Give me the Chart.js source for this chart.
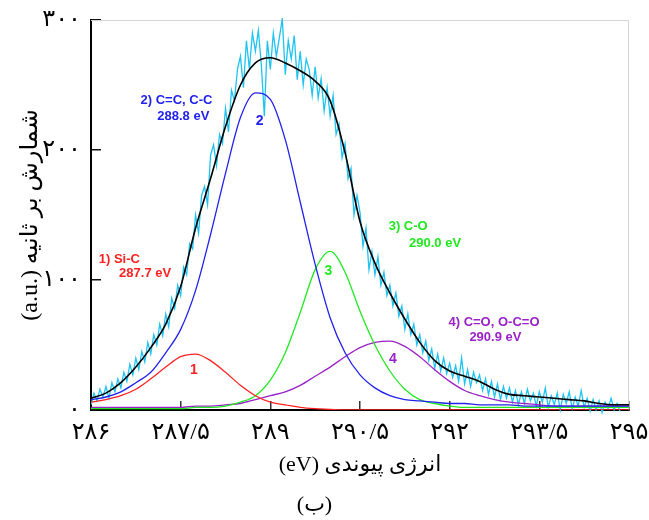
<!DOCTYPE html>
<html>
<head>
<meta charset="utf-8">
<script src="https://cdn.jsdelivr.net/npm/chart.js@4.4.1/dist/chart.umd.min.js"></script>
<style>
  html, body { margin: 0; padding: 0; background: #fff; }
</style>
</head>
<body>
<canvas id="xps" dir="rtl" width="649" height="520"></canvas>
<script>
// C1s spectrum: raw counts + fitted components

var fitEnergy = [286, 286.25, 286.5, 286.75, 287, 287.25, 287.5, 287.75, 288, 288.25, 288.5, 288.75,
  289, 289.25, 289.5, 289.75, 290, 290.25, 290.5, 290.75, 291, 291.25, 291.5, 291.75,
  292, 292.25, 292.5, 292.75, 293, 293.25, 293.5, 293.75, 294, 294.25, 294.5, 294.75, 295];

var siC = [6, 8, 11, 16, 24, 33, 41, 43, 38, 29, 19, 11,
  6, 4, 2, 1, 0.5, 0, 0, 0, 0, 0, 0, 0,
  0, 0, 0, 0, 0, 0, 0, 0, 0, 0, 0, 0, 0];

var cC = [8, 10, 14, 21, 29, 44, 62, 92, 135, 182, 225, 244,
  239, 208, 160, 112, 71, 44, 27, 17, 11, 8, 7, 6,
  5, 5, 4, 4, 4, 3, 3, 3, 3, 3, 3, 3, 3];

var cO = [1, 1, 1, 1, 1, 1, 1, 2, 2, 3, 6, 11,
  23, 44, 75, 108, 122, 106, 76, 50, 30, 16, 8, 5,
  3, 2, 2, 2, 2, 2, 2, 2, 2, 2, 2, 2, 2];

var cOO = [2, 2, 2, 2, 2, 2, 2, 3, 3, 4, 5, 8,
  11, 14, 19, 26, 33, 41, 48, 52, 53, 49, 41, 31,
  22, 15, 11, 8, 6, 5, 4, 3, 3, 3, 3, 3, 3];

var envelope = [9, 13, 21, 33, 48, 66, 95, 140, 178, 218, 250, 267,
  271, 267, 261, 253, 238, 198, 145, 113, 90, 70, 52, 38,
  30, 26, 22, 16, 12, 11, 10, 9, 8, 7, 5, 4, 4];

var rawEnergy = [
  286.00, 286.05, 286.10, 286.15, 286.20, 286.25, 286.30, 286.35, 286.40, 286.45,
  286.50, 286.55, 286.60, 286.65, 286.70, 286.75, 286.80, 286.85, 286.90, 286.95,
  287.00, 287.05, 287.10, 287.15, 287.20, 287.25, 287.30, 287.35, 287.40, 287.45,
  287.50, 287.55, 287.60, 287.65, 287.70, 287.75, 287.80, 287.85, 287.90, 287.95,
  288.00, 288.05, 288.10, 288.15, 288.20, 288.25, 288.30, 288.35, 288.40, 288.45,
  288.50, 288.55, 288.60, 288.65, 288.70, 288.75, 288.80, 288.85, 288.90, 288.95,
  289.00, 289.05, 289.10, 289.15, 289.20, 289.25, 289.30, 289.35, 289.40, 289.45,
  289.50, 289.55, 289.60, 289.65, 289.70, 289.75, 289.80, 289.85, 289.90, 289.95,
  290.00, 290.05, 290.10, 290.15, 290.20, 290.25, 290.30, 290.35, 290.40, 290.45,
  290.50, 290.55, 290.60, 290.65, 290.70, 290.75, 290.80, 290.85, 290.90, 290.95,
  291.00, 291.05, 291.10, 291.15, 291.20, 291.25, 291.30, 291.35, 291.40, 291.45,
  291.50, 291.55, 291.60, 291.65, 291.70, 291.75, 291.80, 291.85, 291.90, 291.95,
  292.00, 292.05, 292.10, 292.15, 292.20, 292.25, 292.30, 292.35, 292.40, 292.45,
  292.50, 292.55, 292.60, 292.65, 292.70, 292.75, 292.80, 292.85, 292.90, 292.95,
  293.00, 293.05, 293.10, 293.15, 293.20, 293.25, 293.30, 293.35, 293.40, 293.45,
  293.50, 293.55, 293.60, 293.65, 293.70, 293.75, 293.80, 293.85, 293.90, 293.95,
  294.00, 294.05, 294.10, 294.15, 294.20, 294.25, 294.30, 294.35, 294.40, 294.45,
  294.50, 294.55, 294.60, 294.65, 294.70, 294.75, 294.80, 294.85];

var rawCounts = [
  4, 13, 7, 16, 10, 18, 9, 21, 14, 24,
  17, 29, 22, 35, 27, 40, 31, 45, 37, 52,
  43, 58, 50, 66, 57, 74, 64, 86, 78, 96,
  88, 110, 104, 128, 124, 150, 136, 165, 172, 158,
  196, 204, 188, 212, 205, 232, 214, 246, 238, 262,
  272, 248, 284, 262, 290, 276, 292, 265, 226, 284,
  262, 290, 272, 286, 301, 258, 284, 270, 288, 254,
  276, 250, 270, 262, 242, 264, 240, 255, 230, 248,
  226, 242, 212, 220, 194, 205, 178, 186, 150, 165,
  152, 126, 140, 108, 122, 104, 118, 96, 106, 88,
  96, 80, 90, 72, 80, 62, 74, 58, 66, 50,
  58, 44, 53, 38, 47, 32, 43, 30, 40, 28,
  36, 25, 34, 22, 40, 20, 31, 18, 29, 21,
  27, 15, 24, 12, 22, 10, 20, 8, 18, 9,
  17, 6, 15, 4, 14, 5, 16, 7, 13, 3,
  14, 6, 17, 2, 11, 4, 13, 0, 12, 5,
  14, 1, 10, 3, 15, 2, 9, -1, 8, 0,
  7, -2, 6, 1, 9, 0, 5, -1];

var xTickValues = [286, 287.5, 289, 290.5, 292, 293.5, 295];
var yTickValues = [0, 100, 200, 300];

var RED = "#ff2222";
var BLUE = "#2222ee";
var GREEN = "#22e822";
var PURPLE = "#9a22c8";
var CYAN = "#1ec3f2";

var FA = "'Liberation Serif', 'DejaVu Sans', serif";

function toFa(v) {
  var s = String(Math.round(v * 10) / 10).replace(".", "/");
  return s.replace(/[0-9]/g, function (d) { return "۰۱۲۳۴۵۶۷۸۹"[d]; });
}

function pairs(xs, ys) {
  return xs.map(function (x, i) { return { x: x, y: ys[i] }; });
}

// text labels for the components, anchored in data units
var notes = [
  { text: "1) Si-C", x: 286.13, y: 116, align: "left", color: RED, size: 13 },
  { text: "287.7 eV", x: 286.47, y: 105, align: "left", color: RED, size: 13 },
  { text: "2) C=C, C-C", x: 288.03, y: 238, align: "right", color: BLUE, size: 13 },
  { text: "288.8 eV", x: 287.98, y: 226, align: "right", color: BLUE, size: 13 },
  { text: "3) C-O", x: 290.98, y: 141, align: "left", color: GREEN, size: 13 },
  { text: "290.0 eV", x: 291.32, y: 128, align: "left", color: GREEN, size: 13 },
  { text: "4) C=O, O-C=O", x: 291.98, y: 67, align: "left", color: PURPLE, size: 13 },
  { text: "290.9 eV", x: 292.33, y: 56, align: "left", color: PURPLE, size: 13 },
  { text: "1", x: 287.72, y: 31, align: "center", color: RED, size: 14 },
  { text: "2", x: 288.82, y: 222, align: "center", color: BLUE, size: 14 },
  { text: "3", x: 289.97, y: 107, align: "center", color: GREEN, size: 14 },
  { text: "4", x: 291.05, y: 39, align: "center", color: PURPLE, size: 14 }
];

var notesPlugin = {
  id: "notes",
  beforeDatasetsDraw: function (chart) {
    var a = chart.chartArea, ctx = chart.ctx;
    ctx.save();
    ctx.strokeStyle = "#d4d4d4";
    ctx.lineWidth = 1;
    ctx.beginPath();
    ctx.moveTo(a.left, a.top + 0.5);
    ctx.lineTo(a.right - 0.5, a.top + 0.5);
    ctx.lineTo(a.right - 0.5, a.bottom);
    ctx.stroke();
    ctx.restore();
  },
  afterDatasetsDraw: function (chart) {
    var ctx = chart.ctx, sx = chart.scales.x, sy = chart.scales.y;
    ctx.save();
    ctx.direction = "ltr";
    ctx.textBaseline = "middle";
    notes.forEach(function (n) {
      ctx.font = "bold " + n.size + "px 'Liberation Sans', Arial, sans-serif";
      ctx.fillStyle = n.color;
      ctx.textAlign = n.align;
      ctx.fillText(n.text, sx.getPixelForValue(n.x), sy.getPixelForValue(n.y));
    });
    ctx.restore();
  }
};

var line = function (label, xs, ys, color, width, order, smooth) {
  return {
    label: label,
    data: pairs(xs, ys),
    borderColor: color,
    borderWidth: width,
    pointRadius: 0,
    fill: false,
    order: order,
    cubicInterpolationMode: smooth ? "monotone" : "default",
    tension: 0
  };
};

var raw = line("raw", rawEnergy, rawCounts, CYAN, 1.3, 5, false);
raw.clip = { left: 0, top: 2, right: 0, bottom: 6 };

new Chart(document.getElementById("xps").getContext("2d"), {
  type: "line",
  data: {
    datasets: [
      line("envelope", fitEnergy, envelope, "#000000", 1.6, 0, true),
      line("Si-C", fitEnergy, siC, RED, 1.3, 1, true),
      line("C=C, C-C", fitEnergy, cC, BLUE, 1.3, 1, true),
      line("C-O", fitEnergy, cO, GREEN, 1.3, 1, true),
      line("C=O, O-C=O", fitEnergy, cOO, PURPLE, 1.3, 1, true),
      raw
    ]
  },
  options: {
    responsive: false,
    animation: false,
    layout: { padding: { top: 20, right: 20, left: 0, bottom: 0 } },
    plugins: {
      legend: { display: false },
      tooltip: { enabled: false },
      title: {
        display: true,
        position: "bottom",
        text: "(ب)",
        color: "#000",
        font: { family: FA, size: 22, weight: "normal" },
        padding: { top: 4, bottom: 2 }
      }
    },
    scales: {
      x: {
        type: "linear",
        min: 286,
        max: 295,
        afterBuildTicks: function (s) {
          s.ticks = xTickValues.map(function (v) { return { value: v }; });
        },
        afterFit: function (s) {
          s.height = 77.6;
          s.paddingLeft = 0;
          s.paddingRight = 0;
        },
        ticks: {
          padding: 17,
          color: "#000",
          maxRotation: 0,
          autoSkip: false,
          font: { family: FA, size: 24 },
          callback: toFa
        },
        grid: { drawOnChartArea: false, tickLength: -9, color: "#333", lineWidth: 1.5 },
        border: { color: "#000", width: 2 },
        title: {
          display: true,
          text: "انرژی پیوندی (eV)",
          color: "#000",
          font: { family: FA, size: 22 },
          padding: { top: 0, bottom: 9 }
        }
      },
      y: {
        min: 0,
        max: 300,
        afterBuildTicks: function (s) {
          s.ticks = yTickValues.map(function (v) { return { value: v }; });
        },
        afterFit: function (s) {
          s.width = 91;
          s.paddingTop = 0;
          s.paddingBottom = 0;
        },
        ticks: {
          padding: 20,
          color: "#000",
          font: { family: FA, size: 24 },
          callback: toFa
        },
        grid: { drawOnChartArea: false, tickLength: -10, color: "#111", lineWidth: 1.5 },
        border: { color: "#000", width: 2 },
        title: {
          display: true,
          text: "شمارش بر ثانیه (a.u.\u200E)",
          color: "#000",
          font: { family: FA, size: 24 },
          padding: { top: 16, bottom: 0 }
        }
      }
    }
  },
  plugins: [notesPlugin]
});
</script>
</body>
</html>
